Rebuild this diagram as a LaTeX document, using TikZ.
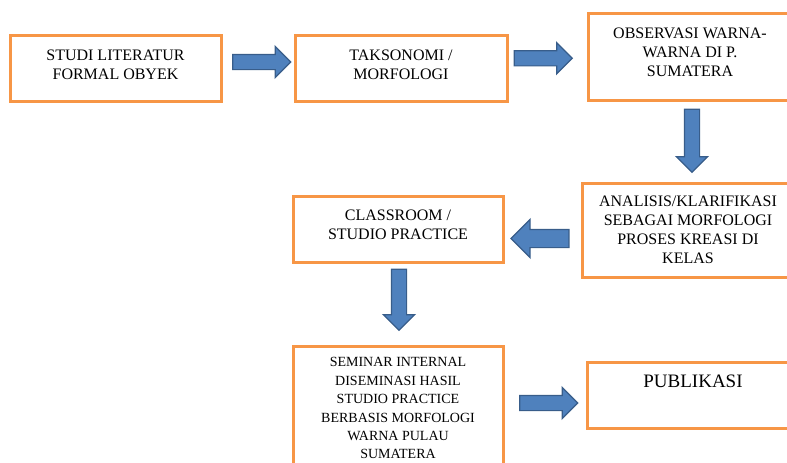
\documentclass[tikz,border=0pt]{standalone}
\usepackage{fontspec}
\setmainfont{Liberation Serif}
\usetikzlibrary{shapes.arrows,calc}
\definecolor{oranye}{HTML}{F79646}
\definecolor{biru}{HTML}{4F81BD}
\definecolor{birutua}{HTML}{385D8A}
\tikzset{
  kotak/.style = {draw=oranye, line width=3pt, inner sep=0pt, fill=white},
  teks/.style = {align=center, inner sep=0pt, anchor=north, font=\fontsize{16}{19}\selectfont},
  panah/.style = {single arrow, draw=birutua, fill=biru, line width=1.2pt, inner sep=7pt,
    single arrow head extend=8pt, minimum height=58pt}
}

\begin{document}
\begin{tikzpicture}[x=1pt,y=-1pt]

  \useasboundingbox (0,0) rectangle (787,463);
  \clip (0,0) rectangle (787,463);

  % kotak
  \node[kotak, minimum width=211pt, minimum height=66pt] (studi) at (115.5,68) {};
  \node[kotak, minimum width=212pt, minimum height=66pt] (takso) at (401,68) {};
  \node[kotak, minimum width=204pt, minimum height=87pt] (obs) at (690,56.5) {};
  \node[kotak, minimum width=212pt, minimum height=94pt] (analisis) at (688,230) {};
  \node[kotak, minimum width=210pt, minimum height=66pt] (kelas) at (398,229) {};
  \node[kotak, minimum width=210pt, minimum height=124pt] (seminar) at (398,408) {};
  \node[kotak, minimum width=212pt, minimum height=66pt] (publikasi) at (693,395) {};

  % teks
  \node[teks] (tstudi) at ([yshift=-16pt]studi.north) {STUDI LITERATUR\\FORMAL OBYEK};
  \node[teks] (ttakso) at ([yshift=-16pt]takso.north) {TAKSONOMI /\\MORFOLOGI};
  \node[teks] (tobs) at ([yshift=-16pt]obs.north) {OBSERVASI WARNA-\\WARNA DI P.\\SUMATERA};
  \node[teks] (tanalisis) at ([yshift=-14pt]analisis.north)
    {ANALISIS/KLARIFIKASI\\SEBAGAI MORFOLOGI\\PROSES KREASI DI\\KELAS};
  \node[teks] (tkelas) at ([yshift=-15.5pt]kelas.north) {CLASSROOM /\\STUDIO PRACTICE};
  \node[teks, font=\fontsize{14}{18.4}\selectfont] (tseminar) at ([yshift=-13pt]seminar.north)
    {SEMINAR INTERNAL\\DISEMINASI HASIL\\STUDIO PRACTICE\\BERBASIS MORFOLOGI\\WARNA PULAU\\SUMATERA};
  \node[teks, font=\fontsize{19}{22}\selectfont] (tpublikasi) at ([yshift=-14pt]publikasi.north) {PUBLIKASI};

  % panah
  \node[panah] (p1) at ($(studi.east)!0.5!(takso.west)+(0,-6)$) {};
  \node[panah] (p2) at ($(takso.east)!0.5!(obs.west)+(-8,-4)$) {};
  \node[panah, rotate=-90, minimum height=63pt] (p3) at ($(obs.south)!0.5!(analisis.north)+(3,-4.5)$) {};
  \node[panah, rotate=180, inner sep=8.5pt, single arrow head extend=10pt] (p4)
    at ($(analisis.west)!0.5!(kelas.east)+(2,9)$) {};
  \node[panah, rotate=-90, minimum height=61pt] (p5) at ($(kelas.south)!0.5!(seminar.north)+(1,-8)$) {};
  \node[panah] (p6) at ($(seminar.east)!0.5!(publikasi.west)+(0,1.5)$) {};

\end{tikzpicture}
\end{document}
